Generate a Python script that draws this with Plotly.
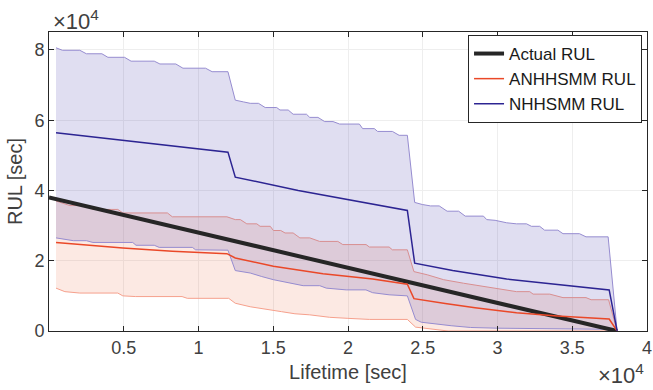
import plotly.graph_objects as go

# ---------------- data (seconds) ----------------
actual_t = [0, 38000]
actual_rul = [38000, 0]

# NHHSMM (blue) mean RUL
nh_t = [470, 11970, 12460, 16670, 23970, 24460, 27000, 30610, 37470, 38000]
nh_mean = [56400, 50900, 43800, 40000, 34300, 19300, 17200, 14800, 11700, 0]

# NHHSMM upper bound
nh_up_t = [470, 900, 2060, 2500, 3540, 3940, 5050, 5490, 7040, 7420, 8480, 8960, 10470, 10910,
           11970, 12460, 13010, 13460, 14010, 14460, 15230, 15450, 16000, 16330, 17220, 17440,
           17990, 18440, 19000, 19440, 20760, 20980, 21760, 21980, 22970, 23420, 23970, 24460,
           24970, 25520, 26100, 26630, 27400, 27840, 29060, 29280, 29840, 30610, 31270, 31940,
           32270, 32820, 33150, 34040, 34380, 35480, 35920, 37400, 38000]
nh_up = [80600, 79900, 79900, 78900, 78900, 77900, 77900, 76800, 76800, 76000, 76000, 74800, 74800, 73800,
         73800, 65700, 65200, 64800, 64800, 63600, 63600, 62900, 62900, 61700, 61700, 60800,
         60800, 59600, 59600, 58900, 58900, 57600, 57600, 56800, 56800, 55700, 55700, 36600,
         36000, 35600, 35600, 34100, 34100, 32700, 32700, 31700, 31500, 30800, 30500, 30500,
         29800, 29800, 28700, 28700, 27700, 27700, 26800, 26800, 0]

# NHHSMM lower bound
nh_lo_t = [470, 1630, 2500, 2940, 5600, 5820, 7040, 7370, 9590, 9810, 11970, 12460, 13460, 14230,
           15010, 15890, 17000, 18110, 18550, 19880, 21200, 21650, 22750, 23970, 24520, 24900,
           25800, 26900, 28200, 30000, 37000, 38000]
nh_lo = [26500, 25700, 25700, 25200, 25200, 24400, 24400, 23800, 23800, 23100, 23000, 17200, 16500, 15500,
         14600, 13800, 12900, 12900, 12200, 11700, 11700, 10900, 10300, 10000, 3300, 2500,
         2000, 1500, 1000, 800, 500, 0]

# ANHHSMM (red) mean RUL
an_t = [470, 4940, 8250, 11900, 12460, 15010, 18330, 21650, 23970, 24410, 26500, 28500, 31270,
        34000, 37470, 38000]
an_mean = [25200, 23600, 22700, 22000, 20800, 18400, 16300, 14800, 13300, 9200, 7800, 6600, 5200,
           4300, 3400, 0]

# ANHHSMM upper bound
an_up_t = [470, 1400, 2500, 2940, 4600, 4940, 7920, 8250, 11900, 12460, 12800, 13230, 13900, 14120,
           14800, 15010, 15500, 15790, 16330, 16780, 17440, 18100, 19320, 19650, 21210, 21430,
           22750, 22970, 23970, 24410, 25300, 26400, 27730, 29060, 31270, 32160, 32380, 33490,
           34380, 35920, 36260, 37430, 38000]
an_up = [37000, 35700, 35700, 34600, 34600, 33600, 33600, 32500, 32500, 31700, 31700, 30500, 30500, 29800,
         29800, 28600, 28600, 27900, 27900, 26500, 26500, 25500, 25500, 24600, 24600, 23900,
         23900, 23100, 23100, 16900, 16000, 14600, 13600, 12700, 11200, 11200, 10500, 10500,
         9500, 9500, 8900, 8900, 0]

# ANHHSMM lower bound
an_lo_t = [470, 1060, 2060, 4600, 4940, 5800, 8900, 9250, 12020, 12460, 13460, 14460, 15560, 16450,
           17440, 18770, 19990, 21430, 23970, 24520, 25500, 26700, 38000]
an_lo = [12200, 11200, 10800, 10800, 10000, 9800, 9800, 9300, 9300, 7900, 6900, 6200, 5500, 4900,
         4600, 3900, 3600, 3300, 3300, 1100, 600, 0, 0]

x_tickvals = [5000, 10000, 15000, 20000, 25000, 30000, 35000, 40000]
x_ticktext = ["0.5", "1", "1.5", "2", "2.5", "3", "3.5", "4"]
y_tickvals = [0, 20000, 40000, 60000, 80000]
y_ticktext = ["0", "2", "4", "6", "8"]

series_names = ["Actual RUL", "ANHHSMM RUL", "NHHSMM RUL"]

# ---------------- styles ----------------
FONT = "Liberation Sans, Arial, sans-serif"
AXC = "#262626"
TXC = "#404040"
BLUE = "rgb(44,36,146)"
RED = "rgb(234,72,40)"
BLUE_EDGE = "rgb(150,140,208)"
RED_EDGE = "rgb(246,160,140)"
BLUE_FILL = "rgba(60,50,170,0.16)"
RED_FILL = "rgba(236,110,70,0.15)"

fig = go.Figure()

# red band
fig.add_trace(go.Scatter(
    x=an_up_t + an_lo_t[::-1], y=an_up + an_lo[::-1],
    fill="toself", fillcolor=RED_FILL, mode="lines",
    line=dict(color=RED_EDGE, width=1), showlegend=False, hoverinfo="skip"))
# blue band
fig.add_trace(go.Scatter(
    x=nh_up_t + nh_lo_t[::-1], y=nh_up + nh_lo[::-1],
    fill="toself", fillcolor=BLUE_FILL, mode="lines",
    line=dict(color=BLUE_EDGE, width=1), showlegend=False, hoverinfo="skip"))

fig.add_trace(go.Scatter(x=actual_t, y=actual_rul, mode="lines", name=series_names[0],
                         line=dict(color="rgb(38,38,38)", width=4)))
fig.add_trace(go.Scatter(x=an_t, y=an_mean, mode="lines", name=series_names[1],
                         line=dict(color=RED, width=1.5)))
fig.add_trace(go.Scatter(x=nh_t, y=nh_mean, mode="lines", name=series_names[2],
                         line=dict(color=BLUE, width=1.5)))

axis_common = dict(
    showline=True, linecolor=AXC, linewidth=1, mirror="ticks",
    ticks="inside", ticklen=5, tickcolor=AXC, tickwidth=1,
    showgrid=True, gridcolor="rgb(238,238,238)", gridwidth=1,
    zeroline=False, tickfont=dict(family=FONT, size=18, color=TXC),
    ticklabeloverflow="allow",
)

fig.update_xaxes(range=[0, 40000], tickvals=x_tickvals, ticktext=x_ticktext,
                 title=dict(text="Lifetime [sec]", font=dict(family=FONT, size=20, color=TXC), standoff=8),
                 **axis_common)
fig.update_yaxes(range=[0, 85100], tickvals=y_tickvals, ticktext=y_ticktext,
                 title=dict(text="RUL [sec]", font=dict(family=FONT, size=20, color=TXC), standoff=6),
                 **axis_common)

fig.update_layout(
    width=653, height=390,
    margin=dict(l=49, r=1, t=32, b=59),
    paper_bgcolor="white", plot_bgcolor="white",
    font=dict(family=FONT, color=TXC),
    legend=dict(x=0.9917, y=0.99, xanchor="right", yanchor="top",
                bgcolor="white", bordercolor=AXC, borderwidth=1,
                font=dict(family=FONT, size=17, color="#1a1a1a"),
                itemwidth=30, tracegroupgap=0),
    annotations=[
        dict(text="×10<sup>4</sup>", xref="paper", yref="paper", x=0.004, y=1.04,
             xanchor="left", yanchor="middle", showarrow=False,
             font=dict(family=FONT, size=22, color=TXC)),
        dict(text="×10<sup>4</sup>", xref="paper", yref="paper", x=0.9985, y=-0.143,
             xanchor="right", yanchor="middle", showarrow=False,
             font=dict(family=FONT, size=22, color=TXC)),
    ],
)

fig.write_html("out.html")
